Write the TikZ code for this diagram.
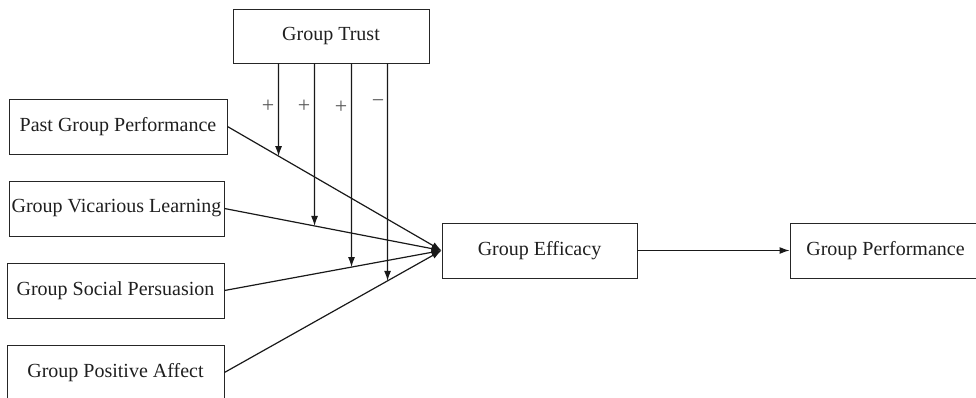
\documentclass[tikz,border=0pt]{standalone}
\usepackage{fontspec}
\setmainfont{Liberation Serif}
\usetikzlibrary{arrows.meta,calc}
\begin{document}
\begin{tikzpicture}[x=1pt,y=-1pt,
  box/.style={draw, draw=black!85, line width=0.9pt, inner sep=0pt, minimum height=55pt,
    font=\fontsize{20}{24}\selectfont, text=black!88},
  conn/.style={line width=1.2pt, draw=black!90, -{Latex[length=10pt,width=7pt]}},
  sign/.style={font=\fontsize{22}{26}\selectfont, text=black!65, inner sep=0pt}]
\useasboundingbox (0,0) rectangle (976,398);
\node[box, minimum width=196pt, minimum height=54pt] (trust) at (331,36) {Group Trust};
\node[box, minimum width=218pt] (past) at (118,126.5) {Past Group Performance};
\node[box, minimum width=215pt] (vic) at (116.5,208.5) {Group Vicarious Learning};
\node[box, minimum width=217pt] (soc) at (115.5,290.5) {Group Social Persuasion};
\node[box, minimum width=217pt] (pos) at (115.5,372.5) {Group Positive Affect};
\node[box, minimum width=195pt] (eff) at (539.5,250.5) {Group Efficacy};
\node[box, minimum width=191pt] (perf) at (885.5,250.5) {Group Performance};

\draw[conn] (past.east) -- (eff.west);
\draw[conn] (vic.east) -- (eff.west);
\draw[conn] (soc.east) -- (eff.west);
\draw[conn] (pos.east) -- (eff.west);
\draw[conn] (eff.east) -- (perf.west);

\coordinate (t1) at ([xshift=46pt]trust.south west);
\coordinate (t2) at ([xshift=82pt]trust.south west);
\coordinate (t3) at ([xshift=119pt]trust.south west);
\coordinate (t4) at ([xshift=155pt]trust.south west);
\coordinate (b1) at ([yshift=-400pt]t1);
\coordinate (b2) at ([yshift=-400pt]t2);
\coordinate (b3) at ([yshift=-400pt]t3);
\coordinate (b4) at ([yshift=-400pt]t4);
\coordinate (e1) at (intersection of t1--b1 and past.east--eff.west);
\coordinate (e2) at (intersection of t2--b2 and vic.east--eff.west);
\coordinate (e3) at (intersection of t3--b3 and soc.east--eff.west);
\coordinate (e4) at (intersection of t4--b4 and pos.east--eff.west);
\draw[conn] (t1) -- (e1);
\draw[conn] (t2) -- (e2);
\draw[conn] (t3) -- (e3);
\draw[conn] (t4) -- (e4);

\node[sign] (s1) at (268,106) {+};
\node[sign] (s2) at (304,106) {+};
\node[sign] (s3) at (341,107) {+};
\node[sign] (s4) at (378,104) {−};
\end{tikzpicture}
\end{document}
